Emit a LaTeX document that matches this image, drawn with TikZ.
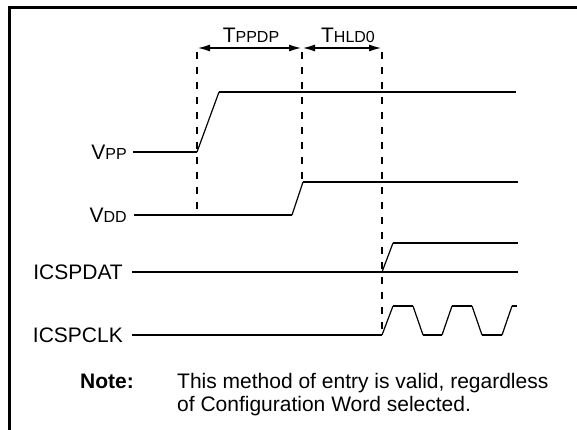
\documentclass[tikz,border=0pt]{standalone}
\usepackage{fontspec}
\setmainfont{Liberation Sans}
\usetikzlibrary{arrows.meta}
\newcommand{\bigf}{\fontsize{21}{25}\selectfont}
\newcommand{\smf}{\fontsize{16}{18}\selectfont}
\begin{document}
\begin{tikzpicture}[x=1pt,y=-1pt,
  sig/.style={line width=2pt},
  edg/.style={line width=1.2pt},
  tmark/.style={line width=2pt, dash pattern=on 7pt off 8pt},
  lbl/.style={anchor=east, inner sep=0pt, font=\bigf},
  dim/.style={line width=2pt, {Latex[length=13pt,width=7pt]}-{Latex[length=13pt,width=7pt]}},
  txt/.style={anchor=base west, inner sep=0pt, font=\bigf}]
\useasboundingbox (0,0) rectangle (577,429);
% frame (partly outside the picture)
\draw[line width=2.3pt] (9.5,440) -- (9.5,7.5) -- (590,7.5);
% labels
\node[lbl] (vpp) at (127,152) {V\smf PP};
\node[lbl] (vdd) at (127,215) {V\smf DD};
\node[lbl] (dat) at (123,272) {ICSPDAT};
\node[lbl] (clk) at (123,335) {ICSPCLK};
% marker coordinates
\coordinate (m1t) at (197,52);
\coordinate (m2t) at (302,52);
\coordinate (m3t) at (382,52);
\coordinate (m1b) at (197,215);
\coordinate (m2b) at (302,182);
\coordinate (m3b) at (382,335);
\draw[tmark] (m1t) -- (m1b);
\draw[tmark] (m2t) -- (m2b);
\draw[tmark] (m3t) -- (m3b);
% dimension arrows
\coordinate (a1) at (197,48);
\coordinate (a2) at (302,48);
\coordinate (a3) at (382,48);
\draw[dim] (a1) -- (a2);
\draw[dim] (a2) -- (a3);
\node[font=\bigf, inner sep=0pt] (tppdp) at (251,35) {T\smf PPDP};
\node[font=\bigf, inner sep=0pt] (thld) at (348,35) {T\smf HLD0};
% VPP
\draw[sig] (133,152) -- (197,152);
\draw[edg] (197,152) -- (219,92);
\draw[sig] (219,92) -- (516,92);
% VDD
\draw[sig] (134,215) -- (292,215);
\draw[edg] (292,215) -- (303,182);
\draw[sig] (303,182) -- (518,182);
% ICSPDAT
\draw[sig] (132,272) -- (518,272);
\draw[edg] (382,272) -- (393,243);
\draw[sig] (393,243) -- (518,243);
% ICSPCLK
\draw[sig] (132,335) -- (382,335);
\draw[edg] (382,335) -- (393,306);
\draw[sig] (393,306) -- (413,306);
\draw[edg] (413,306) -- (423,335);
\draw[sig] (423,335) -- (442,335);
\draw[edg] (442,335) -- (452,306);
\draw[sig] (452,306) -- (472,306);
\draw[edg] (472,306) -- (482,335);
\draw[sig] (482,335) -- (502,335);
\draw[edg] (502,335) -- (512,306);
\draw[sig] (512,306) -- (517,306);
% note
\node[txt, font=\bigf\bfseries] (note) at (80,388) {Note:};
\node[txt] (n1) at (177,388) {This method of entry is valid, regardless};
\node[txt] (n2) at (177,411) {of Configuration Word selected.};
\end{tikzpicture}
\end{document}
